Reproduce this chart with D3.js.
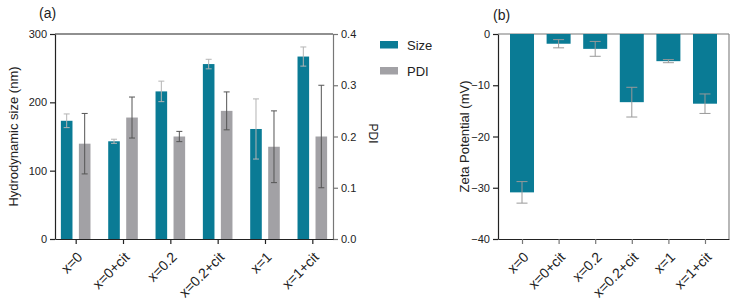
<!DOCTYPE html>
<html><head><meta charset="utf-8">
<script src="https://cdn.jsdelivr.net/npm/d3@7"></script>
<style>body{margin:0;background:#fff;} text{font-family:Arial,"Liberation Sans",sans-serif;}</style>
</head><body>
<svg id="c" width="734" height="306"></svg>
<script>
const categories = ["x=0","x=0+cit","x=0.2","x=0.2+cit","x=1","x=1+cit"];
const sizeVals = [173, 143, 216, 256, 161, 267];
const sizeErr = [10, 3, 15, 7, 44, 14];
const pdiVals = [0.186, 0.237, 0.200, 0.250, 0.180, 0.200];
const pdiErr = [0.059, 0.040, 0.010, 0.037, 0.070, 0.100];
const zetaVals = [-30.9, -1.9, -2.9, -13.3, -5.3, -13.6];
const zetaErr = [2.1, 0.8, 1.45, 2.9, 0.3, 1.9];
const sizeTicks = [0, 100, 200, 300];
const pdiTicks = [0, 0.1, 0.2, 0.3, 0.4];
const zetaTicks = [0, -10, -20, -30, -40];

const TEAL = "#0a7b95", GREY = "#a2a1a5";
const svg = d3.select("#c");
const font = "Arial, 'Liberation Sans', sans-serif";

// ---------- Panel (a)
const ax = {l:55, r:333, t:34, b:239};
const xa = d3.scalePoint().domain(categories).range([ax.l, ax.r]).padding(0.437);
const ySize = d3.scaleLinear().domain([0,300]).range([ax.b, ax.t]);
const yPdi = d3.scaleLinear().domain([0,0.4]).range([ax.b, ax.t]);
const bw = 11.6, off = 9;

const ga = svg.append("g");
ga.selectAll(".sb").data(categories).join("rect")
  .attr("x", d => xa(d) - off - bw/2).attr("width", bw)
  .attr("y", (d,i) => ySize(sizeVals[i])).attr("height", (d,i) => ax.b - ySize(sizeVals[i]))
  .attr("fill", TEAL);
ga.selectAll(".pb").data(categories).join("rect")
  .attr("x", d => xa(d) + off - bw/2).attr("width", bw)
  .attr("y", (d,i) => yPdi(pdiVals[i])).attr("height", (d,i) => ax.b - yPdi(pdiVals[i]))
  .attr("fill", GREY);

function errBar(g, cx, y1, y2, color, cap) {
  g.append("line").attr("x1",cx).attr("x2",cx).attr("y1",y1).attr("y2",y2).attr("stroke",color).attr("stroke-width",1);
  g.append("line").attr("x1",cx-cap).attr("x2",cx+cap).attr("y1",y1).attr("y2",y1).attr("stroke",color).attr("stroke-width",1);
  g.append("line").attr("x1",cx-cap).attr("x2",cx+cap).attr("y1",y2).attr("y2",y2).attr("stroke",color).attr("stroke-width",1);
}
categories.forEach((c,i) => {
  errBar(ga, xa(c)-off, ySize(sizeVals[i]+sizeErr[i]), ySize(sizeVals[i]-sizeErr[i]), "#b4b4b4", 3);
  errBar(ga, xa(c)+off, yPdi(pdiVals[i]+pdiErr[i]), yPdi(pdiVals[i]-pdiErr[i]), "#555", 3);
});

const laxis = ga.append("g").attr("transform",`translate(${ax.l},0)`)
  .call(d3.axisLeft(ySize).tickValues(sizeTicks).tickSize(5).tickSizeOuter(0));
const raxis = ga.append("g").attr("transform",`translate(${ax.r},0)`)
  .call(d3.axisRight(yPdi).tickValues(pdiTicks).tickSize(5).tickSizeOuter(0).tickFormat(d3.format(".1f")));
const baxis = ga.append("g").attr("transform",`translate(0,${ax.b})`)
  .call(d3.axisBottom(xa).tickSize(5).tickSizeOuter(0));
ga.append("line").attr("x1",ax.l).attr("x2",ax.r).attr("y1",ax.t).attr("y2",ax.t).attr("stroke","#222").attr("stroke-width",1.2);

[laxis, baxis].forEach(a => { a.selectAll("path,line").attr("stroke","#222").attr("stroke-width",1.2); });
raxis.selectAll("path,line").attr("stroke","#777").attr("stroke-width",1.2);
[laxis, raxis].forEach(a => a.selectAll("text").attr("font-size",11).attr("fill","#222").attr("font-family",font));
baxis.selectAll("text").attr("font-size",14).attr("fill","#222").attr("font-family",font)
  .attr("text-anchor","end").attr("dy",0).attr("y",0)
  .attr("transform","translate(7,19) rotate(-45)");

ga.append("text").attr("transform",`translate(18,${(ax.t+ax.b)/2}) rotate(-90)`)
  .attr("text-anchor","middle").attr("font-size",13).attr("fill","#222").text("Hydrodynamic size (nm)");
ga.append("text").attr("transform",`translate(369,${(ax.t+ax.b)/2 - 3}) rotate(90)`)
  .attr("text-anchor","middle").attr("font-size",12).attr("fill","#222").text("PDI");
ga.append("text").attr("x",39).attr("y",18).attr("font-size",14).attr("fill","#222").text("(a)");

const legend = [["Size",TEAL],["PDI",GREY]];
legend.forEach((d,i) => {
  ga.append("rect").attr("x",380).attr("y",41 + i*26).attr("width",18).attr("height",7.5).attr("fill",d[1]);
  ga.append("text").attr("x",407).attr("y",49.5 + i*26).attr("font-size",13).attr("fill","#222").text(d[0]);
});

// ---------- Panel (b)
const bx = {l:498, r:729, t:34, b:239};
const xb = d3.scalePoint().domain(categories).range([bx.l, bx.r]).padding(0.656);
const yZ = d3.scaleLinear().domain([-40,0]).range([bx.b, bx.t]);
const bw2 = 24;
const gb = svg.append("g");
gb.append("line").attr("x1",bx.l).attr("x2",bx.r).attr("y1",bx.t).attr("y2",bx.t).attr("stroke","#777").attr("stroke-width",1.2);
gb.append("line").attr("x1",bx.r).attr("x2",bx.r).attr("y1",bx.t).attr("y2",bx.b).attr("stroke","#888").attr("stroke-width",1.2);
gb.selectAll(".zb").data(categories).join("rect")
  .attr("x", d => xb(d) - bw2/2).attr("width", bw2)
  .attr("y", yZ(0)).attr("height", (d,i) => yZ(zetaVals[i]) - yZ(0))
  .attr("fill", TEAL);
categories.forEach((c,i) => {
  errBar(gb, xb(c), yZ(zetaVals[i]+zetaErr[i]), yZ(zetaVals[i]-zetaErr[i]), "#999", 5.5);
});
const lb = gb.append("g").attr("transform",`translate(${bx.l},0)`)
  .call(d3.axisLeft(yZ).tickValues(zetaTicks).tickSize(5).tickSizeOuter(0));
const bb = gb.append("g").attr("transform",`translate(0,${bx.b})`)
  .call(d3.axisBottom(xb).tickSize(5).tickSizeOuter(0));
lb.selectAll("path,line").attr("stroke","#222").attr("stroke-width",1.2);
bb.select("path").attr("stroke","#222").attr("stroke-width",1.2);
bb.selectAll("line").attr("stroke","#777").attr("stroke-width",1.2);
lb.selectAll("text").attr("font-size",11).attr("fill","#222").attr("font-family",font);
bb.selectAll("text").attr("font-size",14).attr("fill","#222").attr("font-family",font)
  .attr("text-anchor","end").attr("dy",0).attr("y",0)
  .attr("transform","translate(7,19) rotate(-45)");
gb.append("text").attr("transform",`translate(469,${(bx.t+bx.b)/2}) rotate(-90)`)
  .attr("text-anchor","middle").attr("font-size",13).attr("fill","#222").text("Zeta Potential (mV)");
gb.append("text").attr("x",493).attr("y",20).attr("font-size",14).attr("fill","#222").text("(b)");
</script>
</body></html>
